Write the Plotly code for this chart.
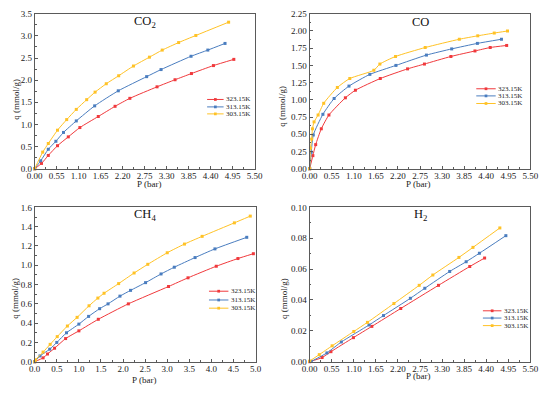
import plotly.graph_objects as go

# ---------------- data ----------------
series_names = ["323.15K", "313.15K", "303.15K"]
series_colors = ["#f0393c", "#4a7dbf", "#ffc226"]

# CO2
co2_p_323 = [0.0, 0.17, 0.34, 0.57, 0.84, 1.13, 1.59, 2.01, 2.38, 3.06, 3.51, 3.92, 4.47, 4.98]
co2_q_323 = [0.0, 0.12, 0.30, 0.52, 0.72, 0.93, 1.18, 1.41, 1.59, 1.85, 2.01, 2.15, 2.33, 2.47]
co2_p_313 = [0.0, 0.15, 0.34, 0.53, 0.72, 1.04, 1.50, 2.09, 2.80, 3.16, 3.91, 4.33, 4.76]
co2_q_313 = [0.0, 0.18, 0.44, 0.62, 0.82, 1.08, 1.42, 1.76, 2.08, 2.24, 2.54, 2.68, 2.83]
co2_p_303 = [0.0, 0.20, 0.34, 0.57, 0.80, 1.04, 1.30, 1.51, 1.79, 2.10, 2.47, 2.87, 3.19, 3.60, 4.03, 4.85]
co2_q_303 = [0.0, 0.375, 0.57, 0.87, 1.11, 1.34, 1.56, 1.73, 1.92, 2.10, 2.32, 2.52, 2.68, 2.85, 3.01, 3.31]

# CO
co_p_323 = [0.0, 0.08, 0.15, 0.29, 0.48, 0.89, 1.14, 1.76, 2.44, 2.86, 3.52, 4.12, 4.50, 4.91]
co_q_323 = [0.0, 0.19, 0.35, 0.58, 0.78, 1.03, 1.14, 1.31, 1.45, 1.52, 1.63, 1.71, 1.76, 1.79]
co_p_313 = [0.0, 0.04, 0.09, 0.33, 0.61, 0.98, 1.50, 2.15, 2.91, 3.54, 4.18, 4.78]
co_q_313 = [0.0, 0.24, 0.49, 0.79, 1.02, 1.20, 1.37, 1.50, 1.65, 1.74, 1.82, 1.88]
co_p_303 = [0.0, 0.02, 0.05, 0.07, 0.11, 0.21, 0.35, 0.69, 1.00, 1.60, 1.75, 2.14, 2.88, 3.73, 4.19, 4.60, 4.93]
co_q_303 = [0.0, 0.30, 0.43, 0.58, 0.68, 0.78, 0.95, 1.18, 1.31, 1.43, 1.52, 1.63, 1.76, 1.88, 1.93, 1.97, 2.00]

# CH4
ch4_p_323 = [0.0, 0.19, 0.29, 0.45, 0.70, 1.00, 1.44, 2.12, 3.03, 3.47, 4.11, 4.60, 4.95]
ch4_q_323 = [0.0, 0.04, 0.08, 0.14, 0.24, 0.32, 0.44, 0.60, 0.78, 0.87, 0.99, 1.07, 1.12]
ch4_p_313 = [0.0, 0.12, 0.34, 0.50, 0.72, 1.00, 1.22, 1.47, 1.66, 1.93, 2.17, 2.51, 2.86, 3.16, 3.63, 4.08, 4.80]
ch4_q_313 = [0.0, 0.06, 0.13, 0.20, 0.30, 0.39, 0.47, 0.55, 0.60, 0.68, 0.74, 0.82, 0.91, 0.98, 1.08, 1.17, 1.29]
ch4_p_303 = [0.0, 0.02, 0.19, 0.35, 0.51, 0.74, 0.96, 1.23, 1.43, 1.57, 1.90, 2.25, 2.56, 3.00, 3.39, 3.79, 4.52, 4.88]
ch4_q_303 = [0.0, 0.02, 0.10, 0.18, 0.26, 0.37, 0.46, 0.58, 0.66, 0.71, 0.81, 0.92, 1.01, 1.13, 1.22, 1.30, 1.44, 1.51]

# H2
h2_p_323 = [0.0, 0.31, 0.53, 1.09, 1.55, 2.27, 3.21, 3.99, 4.36]
h2_q_323 = [0.0, 0.0027, 0.0065, 0.0156, 0.0229, 0.0345, 0.0495, 0.0617, 0.0672]
h2_p_313 = [0.04, 0.43, 0.79, 1.48, 1.84, 2.51, 2.87, 3.49, 3.90, 4.23, 4.89]
h2_q_313 = [0.0002, 0.0057, 0.0128, 0.0238, 0.0299, 0.0411, 0.0476, 0.0585, 0.0648, 0.0703, 0.0817]
h2_p_303 = [0.0, 0.24, 0.56, 1.10, 1.44, 2.10, 2.73, 3.07, 3.72, 4.07, 4.74]
h2_q_303 = [0.0004, 0.0046, 0.0103, 0.0196, 0.0255, 0.0377, 0.0495, 0.0562, 0.0676, 0.0741, 0.0867]

panel_titles = ["CO<sub>2</sub>", "CO", "CH<sub>4</sub>", "H<sub>2</sub>"]

# tick labels
x_ticks_055 = ["0.00", "0.55", "1.10", "1.65", "2.20", "2.75", "3.30", "3.85", "4.40", "4.95", "5.50"]
x_ticks_05 = ["0.0", "0.5", "1.0", "1.5", "2.0", "2.5", "3.0", "3.5", "4.0", "4.5", "5.0"]
y_ticks_co2 = ["0.0", "0.5", "1.0", "1.5", "2.0", "2.5", "3.0", "3.5"]
y_ticks_co = ["0.00", "0.25", "0.50", "0.75", "1.00", "1.25", "1.50", "1.75", "2.00", "2.25"]
y_ticks_ch4 = ["0.0", "0.2", "0.4", "0.6", "0.8", "1.0", "1.2", "1.4", "1.6"]
y_ticks_h2 = ["0.00", "0.02", "0.04", "0.06", "0.08", "0.10"]
x_axis_title = "P (bar)"
y_axis_title = "q (mmol/g)"

panels = [
    dict(p=[co2_p_323, co2_p_313, co2_p_303], q=[co2_q_323, co2_q_313, co2_q_303],
         xr=[0, 5.5], xt=x_ticks_055, xminor=0.275, yr=[0, 3.5], yt=y_ticks_co2, yminor=0.25),
    dict(p=[co_p_323, co_p_313, co_p_303], q=[co_q_323, co_q_313, co_q_303],
         xr=[0, 5.5], xt=x_ticks_055, xminor=0.275, yr=[0, 2.25], yt=y_ticks_co, yminor=0.125),
    dict(p=[ch4_p_323, ch4_p_313, ch4_p_303], q=[ch4_q_323, ch4_q_313, ch4_q_303],
         xr=[0, 5.0], xt=x_ticks_05, xminor=0.25, yr=[0, 1.6], yt=y_ticks_ch4, yminor=0.1),
    dict(p=[h2_p_323, h2_p_313, h2_p_303], q=[h2_q_323, h2_q_313, h2_q_303],
         xr=[0, 5.5], xt=x_ticks_055, xminor=0.275, yr=[0, 0.10], yt=y_ticks_h2, yminor=0.01),
]

W, H = 550, 394
# plot-area pixel boxes (left, right, top, bottom)
boxes = [(27.5, 254, 9, 168), (310.7, 538, 9, 168), (27.5, 255, 207.7, 366), (310.7, 538, 207.7, 366)]
# legend placement in domain fractions (x line start, x line end, y rows)
legend_pos = [
    (0.784, 0.859, [0.447, 0.399, 0.354]),
    (0.755, 0.843, [0.516, 0.470, 0.421]),
    (0.789, 0.877, [0.457, 0.400, 0.347]),
    (0.785, 0.869, [0.330, 0.283, 0.234]),
]
# axis-title pixel positions
ytitle_px = [(7.5, 97), (282.5, 104), (7.5, 301), (285, 301)]
xtitle_px = [(145, 184), (422, 184), (140, 384.5), (422, 381)]

FONT = "Liberation Serif, Times New Roman, serif"
AXC = "#5a5a5a"

fig = go.Figure()
for i, pn in enumerate(panels):
    ax = "" if i == 0 else str(i + 1)
    xa, ya = "x" + ax, "y" + ax
    for k in range(3):
        fig.add_trace(go.Scatter(
            x=pn["p"][k], y=pn["q"][k], mode="lines+markers",
            line=dict(color=series_colors[k], width=1, shape="spline", smoothing=0.55),
            marker=dict(color=series_colors[k], size=3, symbol="square"),
            name=series_names[k], showlegend=False, xaxis=xa, yaxis=ya, cliponaxis=False,
            hoverinfo="skip"))
    l, r, t, b = boxes[i]
    dom_x = [l / W, r / W]
    dom_y = [1 - b / H, 1 - t / H]
    fig.layout["xaxis" + ax] = dict(
        domain=dom_x, range=pn["xr"], anchor=ya, tickmode="array",
        tickvals=[float(s) for s in pn["xt"]], ticktext=pn["xt"],
        ticks="inside", ticklen=3, tickcolor=AXC, ticklabelstandoff=-2,
        minor=dict(ticks="inside", ticklen=1.8, dtick=pn["xminor"], tick0=0, tickcolor=AXC),
        showline=True, mirror=True, linecolor=AXC, linewidth=1, showgrid=False, zeroline=False,
        tickfont=dict(family=FONT, size=9, color="#222"))
    fig.layout["yaxis" + ax] = dict(
        domain=dom_y, range=pn["yr"], anchor=xa, tickmode="array",
        tickvals=[float(s) for s in pn["yt"]], ticktext=pn["yt"],
        ticks="inside", ticklen=3, tickcolor=AXC,
        minor=dict(ticks="inside", ticklen=1.8, dtick=pn["yminor"], tick0=0, tickcolor=AXC),
        showline=True, mirror=True, linecolor=AXC, linewidth=1, showgrid=False, zeroline=False,
        tickfont=dict(family=FONT, size=9, color="#222"))
    # panel title
    fig.add_annotation(text=panel_titles[i], xref=xa + " domain", yref=ya + " domain",
                       x=0.5, y=0.95, xanchor="center", yanchor="middle", showarrow=False,
                       font=dict(family=FONT, size=12.5, color="#111"))
    # axis titles
    yx, yy = ytitle_px[i]
    fig.add_annotation(text=y_axis_title, xref="paper", yref="paper", x=yx / W, y=1 - yy / H,
                       xanchor="center", yanchor="middle", textangle=-90, showarrow=False,
                       font=dict(family=FONT, size=9, color="#222"))
    xx, xy = xtitle_px[i]
    fig.add_annotation(text=x_axis_title, xref="paper", yref="paper", x=xx / W, y=1 - xy / H,
                       xanchor="center", yanchor="middle", showarrow=False,
                       font=dict(family=FONT, size=9, color="#222"))
    # legend
    lx0, lx1, rows = legend_pos[i]
    for k in range(3):
        fig.add_shape(type="line", xref=xa + " domain", yref=ya + " domain",
                      x0=lx0, x1=lx1, y0=rows[k], y1=rows[k],
                      line=dict(color=series_colors[k], width=1))
        xm = (lx0 + lx1) / 2
        fig.add_shape(type="rect", xref=xa + " domain", yref=ya + " domain",
                      x0=xm - 1.4 / (r - l), x1=xm + 1.4 / (r - l),
                      y0=rows[k] - 1.4 / (b - t), y1=rows[k] + 1.4 / (b - t),
                      line=dict(width=0), fillcolor=series_colors[k])
        fig.add_annotation(text=series_names[k], xref=xa + " domain", yref=ya + " domain",
                           x=lx1 + 0.005, y=rows[k], xanchor="left", yanchor="middle",
                           showarrow=False, borderpad=0,
                           font=dict(family=FONT, size=7, color="#222"))

fig.update_layout(width=W, height=H, margin=dict(l=0, r=0, t=0, b=0),
                  paper_bgcolor="white", plot_bgcolor="white", showlegend=False,
                  hovermode=False, font=dict(family=FONT))
fig.write_html("out.html", config={"displayModeBar": False, "staticPlot": True},
               post_script="document.body.style.margin='0';document.body.style.padding='0';"
                           "document.body.style.overflow='hidden';")
